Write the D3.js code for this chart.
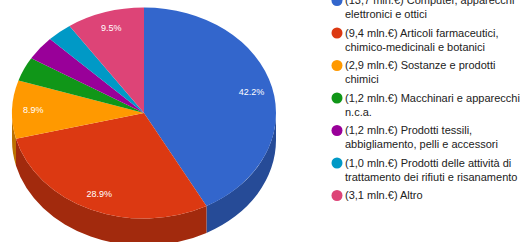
<!DOCTYPE html>
<html>
<head>
<meta charset="utf-8">
<script src="https://cdn.jsdelivr.net/npm/d3@7"></script>
<style>
  html, body { margin: 0; padding: 0; background: #fff; }
  svg { display: block; font-family: Arial, "Liberation Sans", sans-serif; }
</style>
</head>
<body>
<svg id="chart" width="531" height="242"></svg>
<script>
const categories = [
  "(13,7 mln.€) Computer, apparecchi elettronici e ottici",
  "(9,4 mln.€) Articoli farmaceutici, chimico-medicinali e botanici",
  "(2,9 mln.€) Sostanze e prodotti chimici",
  "(1,2 mln.€) Macchinari e apparecchi n.c.a.",
  "(1,2 mln.€) Prodotti tessili, abbigliamento, pelli e accessori",
  "(1,0 mln.€) Prodotti delle attività di trattamento dei rifiuti e risanamento",
  "(3,1 mln.€) Altro"
];
const values = [13.7, 9.4, 2.9, 1.2, 1.2, 1.0, 3.1];
const colors = ["#3366cc", "#dc3912", "#ff9900", "#109618", "#990099", "#0099c6", "#dd4477"];

const W = 531, H = 242;
const cx = 144, cy = 113, rx = 132, ry = 105.5, depth = 27;

const svg = d3.select("#chart");

const pie = d3.pie().sort(null).value(d => d.value).startAngle(0).endAngle(2 * Math.PI);
const slices = pie(values.map((v, i) => ({ value: v, i })));
const total = d3.sum(values);

const pt = (a, dy = 0) => [cx + rx * Math.sin(a), cy - ry * Math.cos(a) + dy];

// side walls (front half only)
const sides = svg.append("g");
slices.forEach(s => {
  const a0 = Math.max(s.startAngle, Math.PI / 2);
  const a1 = Math.min(s.endAngle, 3 * Math.PI / 2);
  if (a1 <= a0) return;
  const p0 = pt(a0), p1 = pt(a1), q1 = pt(a1, depth), q0 = pt(a0, depth);
  sides.append("path")
    .attr("d", `M${p0}A${rx},${ry} 0 0,1 ${p1}L${q1}A${rx},${ry} 0 0,0 ${q0}Z`)
    .attr("fill", d3.color(colors[s.data.i]).darker(0.85));
});

// top faces
const tops = svg.append("g");
tops.selectAll("path")
  .data(slices)
  .join("path")
  .attr("fill", d => colors[d.data.i])
  .attr("d", d => {
    const large = d.endAngle - d.startAngle > Math.PI ? 1 : 0;
    return `M${cx},${cy}L${pt(d.startAngle)}A${rx},${ry} 0 ${large},1 ${pt(d.endAngle)}Z`;
  });

// percentage labels
svg.append("g")
  .selectAll("text")
  .data(slices.filter(d => d.data.value / total > 0.05))
  .join("text")
  .attr("x", d => cx + 0.84 * rx * Math.sin((d.startAngle + d.endAngle) / 2))
  .attr("y", d => cy - 0.84 * ry * Math.cos((d.startAngle + d.endAngle) / 2))
  .attr("text-anchor", "middle")
  .attr("dy", "0.35em")
  .attr("font-size", 9)
  .attr("fill", "#fff")
  .text(d => (d.data.value / total * 100).toFixed(1) + "%");

// legend
const legend = svg.append("g");
const lx = 337, ltx = 345, maxW = 182, lineH = 13.7;
let ly = 0.5;
categories.forEach((c, i) => {
  const g = legend.append("g");
  g.append("circle").attr("cx", lx).attr("cy", ly).attr("r", 5.5).attr("fill", colors[i]);
  const text = g.append("text").attr("font-size", 11).attr("fill", "#222");
  const words = c.split(/\s+/);
  let line = [], lines = 0;
  let tspan = text.append("tspan").attr("x", ltx).attr("y", ly).attr("dy", "0.35em");
  words.forEach(w => {
    line.push(w);
    tspan.text(line.join(" "));
    if (tspan.node().getComputedTextLength() > maxW && line.length > 1) {
      line.pop();
      tspan.text(line.join(" "));
      line = [w];
      lines++;
      tspan = text.append("tspan").attr("x", ltx).attr("y", ly + lines * lineH).attr("dy", "0.35em").text(w);
    }
  });
  ly += 32.5;
});
</script>
</body>
</html>
